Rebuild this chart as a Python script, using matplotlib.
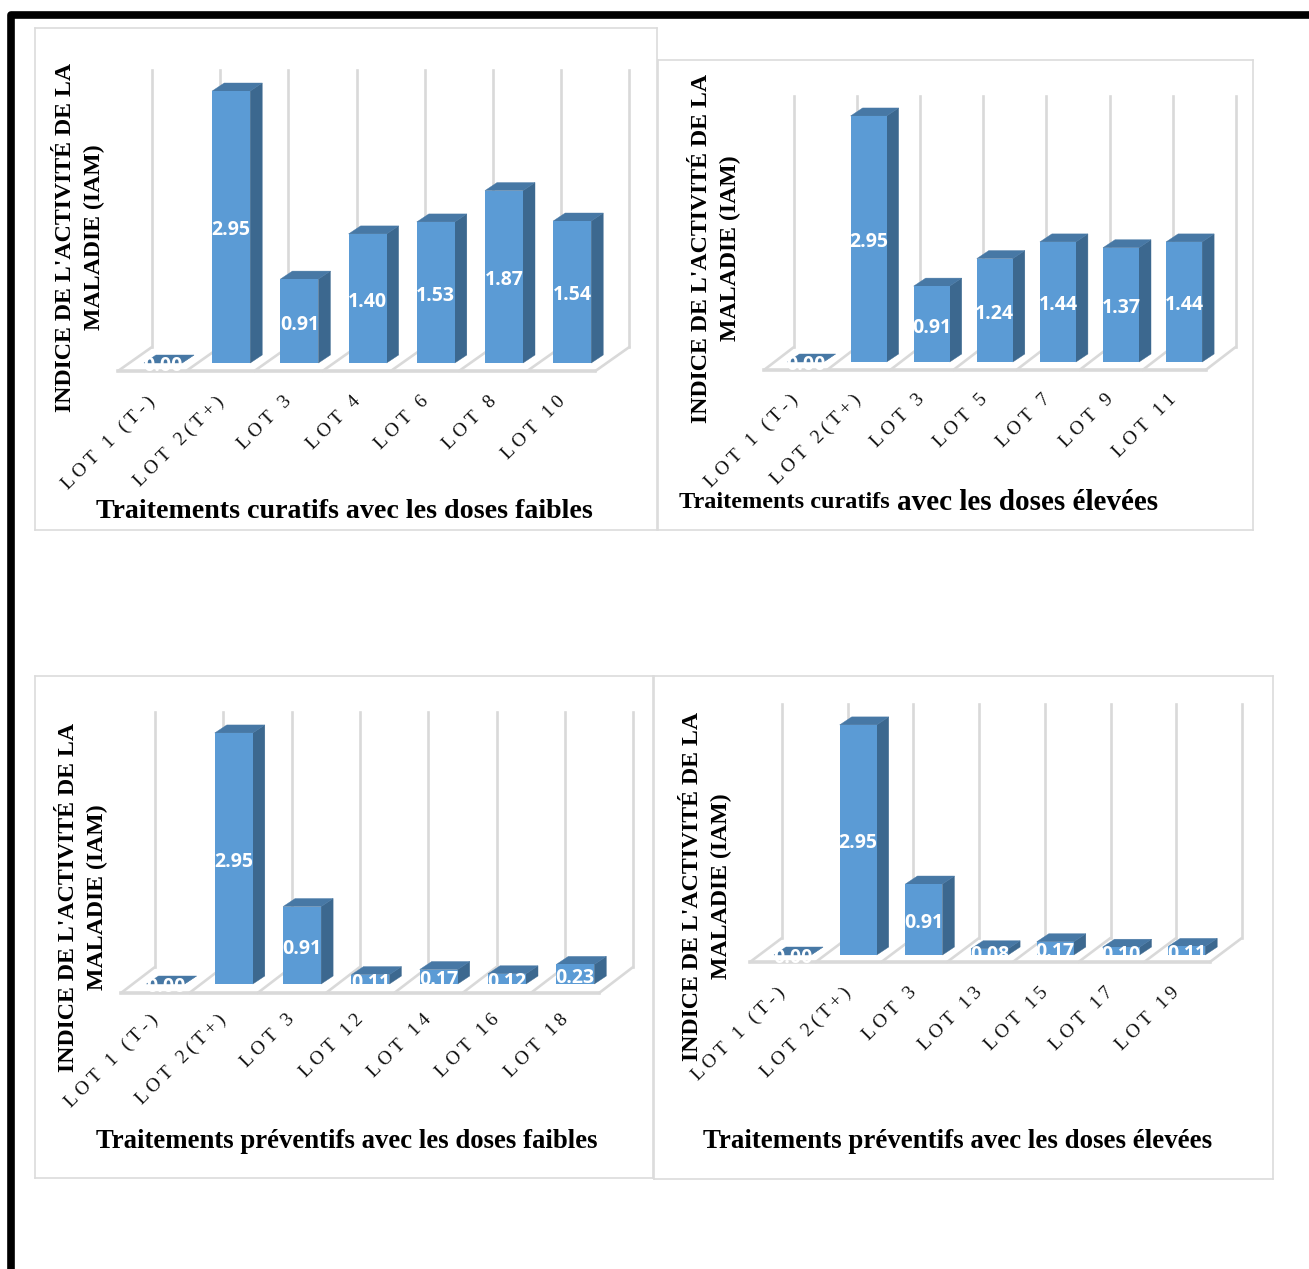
import matplotlib
matplotlib.use("Agg")
import matplotlib.pyplot as plt
from matplotlib.lines import Line2D
from matplotlib.patches import Polygon
from matplotlib.transforms import Affine2D

WIDTH, HEIGHT = 1309, 1269

# Disease activity index per treatment group
lots_curatif_faible = ["LOT 1 (T-)", "LOT 2(T+)", "LOT 3", "LOT 4", "LOT 6", "LOT 8", "LOT 10"]
iam_curatif_faible = [0.00, 2.95, 0.91, 1.40, 1.53, 1.87, 1.54]

lots_curatif_eleve = ["LOT 1 (T-)", "LOT 2(T+)", "LOT 3", "LOT 5", "LOT 7", "LOT 9", "LOT 11"]
iam_curatif_eleve = [0.00, 2.95, 0.91, 1.24, 1.44, 1.37, 1.44]

lots_preventif_faible = ["LOT 1 (T-)", "LOT 2(T+)", "LOT 3", "LOT 12", "LOT 14", "LOT 16", "LOT 18"]
iam_preventif_faible = [0.00, 2.95, 0.91, 0.11, 0.17, 0.12, 0.23]

lots_preventif_eleve = ["LOT 1 (T-)", "LOT 2(T+)", "LOT 3", "LOT 13", "LOT 15", "LOT 17", "LOT 19"]
iam_preventif_eleve = [0.00, 2.95, 0.91, 0.08, 0.17, 0.10, 0.11]

YLABEL = "INDICE DE L'ACTIVITÉ DE LA\nMALADIE (IAM)"

FRONT = "#5B9BD5"
SIDE = "#3C688F"
TOP = "#4778A5"
GRID = "#D9D9D9"
BOX = "#DCDCDC"
SERIF = "Liberation Serif"

plt.rcParams["font.family"] = SERIF
fig = plt.figure(figsize=(WIDTH / 100, HEIGHT / 100), dpi=100, facecolor="white")
# Pixel coordinates with the origin at the top left of the figure
px = Affine2D().scale(1, -1).translate(0, HEIGHT)


def spaced(label):
    """Widen the letter spacing of a category label with thin spaces."""
    return "\u2009".join(label)


def draw_panel(lots, values, box, c0, step, y0, ky, bar_w, floor, wall_top, ylab_xy, tick_y):
    left, top, right, bottom = box
    ax = fig.add_axes([left / WIDTH, 1 - bottom / HEIGHT,
                       (right - left) / WIDTH, (bottom - top) / HEIGHT])
    ax.set_xlim((left - c0) / step, (right - c0) / step)
    ax.set_ylim((y0 - bottom) / ky, (y0 - top) / ky)
    ax.set_xticks([])
    ax.set_yticks([])
    ax.patch.set_alpha(0)
    for spine in ax.spines.values():
        spine.set_color(BOX)
        spine.set_linewidth(1.2)

    # Floor and back walls, expressed in category / value units
    f_left, f_front, f_back, f_dx = floor
    front_y = (y0 - f_front) / ky
    back_y = (y0 - f_back) / ky
    wall_y = (y0 - wall_top) / ky
    x_start = (f_left - c0) / step
    depth_floor = f_dx / step
    n = len(lots)
    for k in range(n + 1):
        xf = x_start + k
        xb = xf + depth_floor
        ax.plot([xf, xb], [front_y, back_y], color=GRID, lw=1.9, zorder=1, solid_capstyle="round")
        ax.plot([xb, xb], [back_y, wall_y], color=GRID, lw=1.9, zorder=1)
    ax.plot([x_start, x_start + n], [front_y, front_y], color=GRID, lw=2.6, zorder=1)

    # Extruded bars
    half = bar_w / step / 2
    ddx = 12 / step
    ddy = 8 / ky
    for i, (lot, v) in enumerate(zip(lots, values)):
        xl, xr = i - half, i + half
        ax.add_patch(Polygon([(xr, 0), (xr + ddx, ddy), (xr + ddx, v + ddy), (xr, v)],
                             closed=True, fc=SIDE, ec=SIDE, lw=0.3, zorder=3))
        ax.add_patch(Polygon([(xl, v), (xr, v), (xr + ddx, v + ddy), (xl + ddx, v + ddy)],
                             closed=True, fc=TOP, ec=TOP, lw=0.3, zorder=3))
        ax.add_patch(Polygon([(xl, 0), (xr, 0), (xr, v), (xl, v)],
                             closed=True, fc=FRONT, ec="none", zorder=4))
        ax.annotate(f"{v:.2f}", (i, v / 2), xytext=(0, -2.5), textcoords="offset points",
                    color="white", family="Open Sans", fontweight="bold",
                    fontsize=14, ha="center", va="center", zorder=5)
        # Category label, rotated and anchored at its upper right end
        xp = c0 + i * step - 10
        ax.text(xp, tick_y, spaced(lot), transform=px, rotation=45, rotation_mode="anchor",
                ha="right", va="center", fontsize=14, color="#111111")

    ax.text(ylab_xy[0], ylab_xy[1], YLABEL, transform=px, rotation=90, ha="center", va="center",
            multialignment="center", fontsize=17.2, fontweight="bold", linespacing=1.45, color="black")
    return ax


ax1 = draw_panel(lots_curatif_faible, iam_curatif_faible, (35, 28, 657, 530),
                 163, 68.2, 363, 92.2, 38, (118, 371, 347, 34), 70, (80, 237), 399)
ax2 = draw_panel(lots_curatif_eleve, iam_curatif_eleve, (658, 60, 1253, 530),
                 805.5, 63.1, 362, 83.4, 36, (764, 370, 347, 30), 96, (716, 248), 397)
ax3 = draw_panel(lots_preventif_faible, iam_preventif_faible, (35, 676, 653, 1178),
                 165.5, 68.3, 984, 85.1, 38, (121, 993, 967, 34), 712, (83, 897), 1017)
ax4 = draw_panel(lots_preventif_eleve, iam_preventif_eleve, (654, 676, 1273, 1179),
                 792.5, 65.7, 955, 78.0, 37, (750, 962, 938, 32), 704, (707, 886), 990)

# Panel titles
title_style = dict(transform=px, fontweight="bold", va="center", color="black")
ax1.text(344, 511, "Traitements curatifs avec les doses faibles", ha="center", fontsize=20.2, **title_style)
ax2.text(679, 503, "Traitements curatifs", ha="left", fontsize=17.5, **title_style)
ax2.text(897, 502, "avec les doses élevées", ha="left", fontsize=21, **title_style)
ax3.text(347, 1141, "Traitements préventifs avec les doses faibles", ha="center", fontsize=19.3, **title_style)
ax4.text(958, 1141, "Traitements préventifs avec les doses élevées", ha="center", fontsize=19.4, **title_style)

# Heavy frame along the top and left edges
fig.add_artist(Line2D([11, 11, WIDTH], [HEIGHT, 14.5, 14.5], transform=px, color="black", lw=5.5,
                      solid_joinstyle="round", solid_capstyle="butt"))

fig.savefig("out.png", dpi=100, facecolor="white")
